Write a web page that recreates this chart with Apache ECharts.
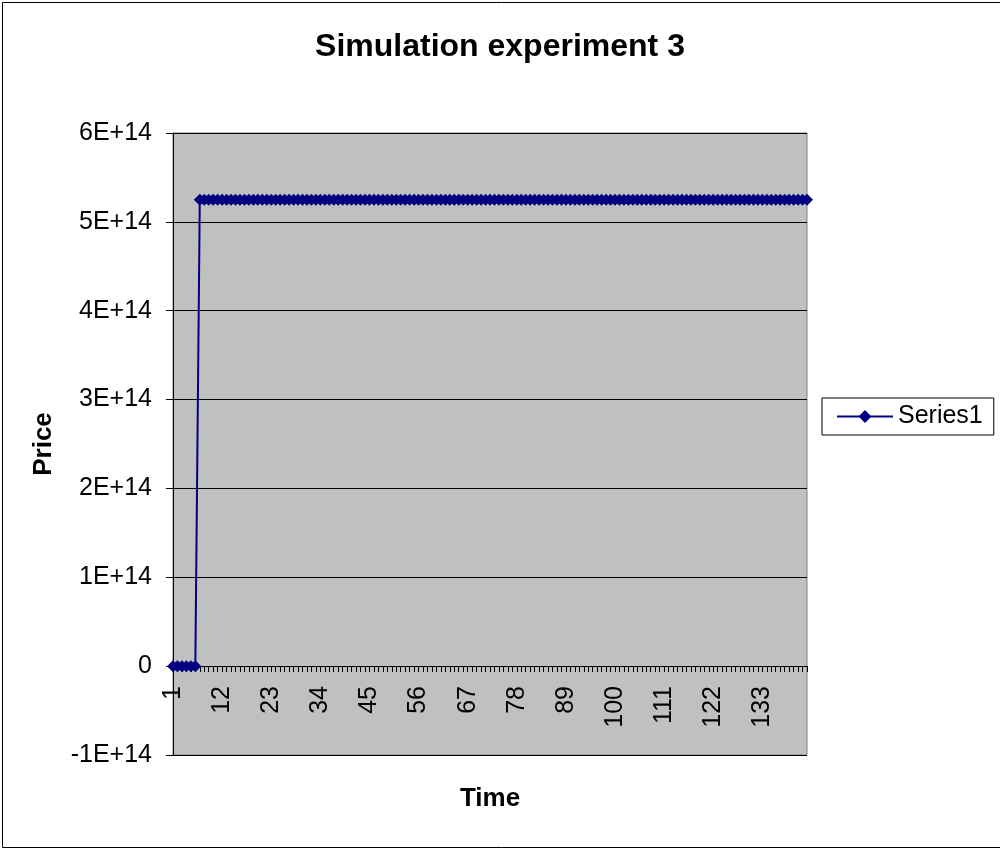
<!DOCTYPE html>
<html><head><meta charset="utf-8">
<script src="https://cdn.jsdelivr.net/npm/echarts@6/dist/echarts.min.js"></script>
<style>html,body{margin:0;padding:0;background:#fff;overflow:hidden}#c{width:1000px;height:848px}</style>
</head><body><div id="c"></div>
<script>
const titleText = 'Simulation experiment 3';
const seriesName = 'Series1';
const xAxisName = 'Time';
const yAxisName = 'Price';
const categories = Array.from({length: 143}, (_, i) => String(i + 1));
const priceValues = [
 0,0,0,0,0,0,
 5.25e14,5.25e14,5.25e14,5.25e14,5.25e14,5.25e14,5.25e14,5.25e14,5.25e14,5.25e14,
 5.25e14,5.25e14,5.25e14,5.25e14,5.25e14,5.25e14,5.25e14,5.25e14,5.25e14,5.25e14,
 5.25e14,5.25e14,5.25e14,5.25e14,5.25e14,5.25e14,5.25e14,5.25e14,5.25e14,5.25e14,
 5.25e14,5.25e14,5.25e14,5.25e14,5.25e14,5.25e14,5.25e14,5.25e14,5.25e14,5.25e14,
 5.25e14,5.25e14,5.25e14,5.25e14,5.25e14,5.25e14,5.25e14,5.25e14,5.25e14,5.25e14,
 5.25e14,5.25e14,5.25e14,5.25e14,5.25e14,5.25e14,5.25e14,5.25e14,5.25e14,5.25e14,
 5.25e14,5.25e14,5.25e14,5.25e14,5.25e14,5.25e14,5.25e14,5.25e14,5.25e14,5.25e14,
 5.25e14,5.25e14,5.25e14,5.25e14,5.25e14,5.25e14,5.25e14,5.25e14,5.25e14,5.25e14,
 5.25e14,5.25e14,5.25e14,5.25e14,5.25e14,5.25e14,5.25e14,5.25e14,5.25e14,5.25e14,
 5.25e14,5.25e14,5.25e14,5.25e14,5.25e14,5.25e14,5.25e14,5.25e14,5.25e14,5.25e14,
 5.25e14,5.25e14,5.25e14,5.25e14,5.25e14,5.25e14,5.25e14,5.25e14,5.25e14,5.25e14,
 5.25e14,5.25e14,5.25e14,5.25e14,5.25e14,5.25e14,5.25e14,5.25e14,5.25e14,5.25e14,
 5.25e14,5.25e14,5.25e14,5.25e14,5.25e14,5.25e14,5.25e14,5.25e14,5.25e14,5.25e14,
 5.25e14,5.25e14,5.25e14,5.25e14,5.25e14,5.25e14,5.25e14,5.25e14,5.25e14,5.25e14,
 5.25e14,5.25e14,5.25e14,5.25e14,5.25e14,5.25e14,5.25e14
];
const yTickLabels = {'-1':'-1E+14','0':'0','1':'1E+14','2':'2E+14','3':'3E+14','4':'4E+14','5':'5E+14','6':'6E+14'};

const font = 'Liberation Sans, Arial, sans-serif';
const navy = '#000080';
const chart = echarts.init(document.getElementById('c'), null, {renderer: 'canvas'});
chart.setOption({
  animation: false,
  backgroundColor: '#ffffff',
  textStyle: {fontFamily: font},
  graphic: [{
    type: 'rect', left: 0, top: 0, z: 100, silent: true,
    shape: {x: 0, y: 0, width: 998, height: 845},
    style: {fill: 'none', stroke: '#000', lineWidth: 1}
  }],
  title: {
    text: titleText, left: 'center', top: 26,
    textStyle: {fontFamily: font, fontSize: 32, fontWeight: 'bold', color: '#000'}
  },
  legend: {
    left: 822, top: 398,
    orient: 'vertical',
    backgroundColor: '#fff', borderColor: '#000', borderWidth: 1, borderRadius: 0,
    padding: [6, 11, 6, 14],
    itemWidth: 56, itemHeight: 16, itemGap: 0,
    textStyle: {fontFamily: font, fontSize: 25, color: '#000', padding: [0, 0, 0, 0]},
    data: [seriesName]
  },
  grid: {left: 173, right: 193, top: 133, bottom: 93, show: true,
    outerBoundsMode: 'none', containLabel: false,
    backgroundColor: '#c0c0c0', borderColor: '#808080', borderWidth: 1},
  xAxis: {
    type: 'category', data: categories, boundaryGap: false,
    position: 'bottom', offset: -89,
    name: xAxisName, nameLocation: 'middle', nameGap: 120,
    nameTextStyle: {fontFamily: font, fontSize: 26, fontWeight: 'bold', color: '#000'},
    axisLine: {onZero: false, lineStyle: {color: '#000', width: 1}},
    axisTick: {show: true, interval: 0, length: 6, lineStyle: {color: '#000'}},
    axisLabel: {
      interval: function (i) { return i % 11 === 0; },
      rotate: 90, margin: 20, hideOverlap: false,
      fontFamily: font, fontSize: 25, color: '#000'
    },
    splitLine: {show: false}
  },
  yAxis: {
    type: 'value', min: -1e14, max: 6e14, interval: 1e14,
    name: yAxisName, nameLocation: 'middle', nameGap: 116, nameRotate: 90,
    nameTextStyle: {fontFamily: font, fontSize: 26, fontWeight: 'bold', color: '#000'},
    axisLine: {show: true, onZero: false, lineStyle: {color: '#000'}},
    axisTick: {show: true, length: 7, lineStyle: {color: '#000'}},
    axisLabel: {
      margin: 21, fontFamily: font, fontSize: 25, color: '#000',
      formatter: function (v) { return yTickLabels[String(Math.round(v / 1e14))]; }
    },
    splitLine: {show: true, lineStyle: {color: '#000', width: 1}}
  },
  series: [{
    name: seriesName, type: 'line', data: priceValues,
    symbol: 'diamond', symbolSize: 12, showAllSymbol: true,
    itemStyle: {color: navy}, lineStyle: {color: navy, width: 2}
  }]
});
</script></body></html>
